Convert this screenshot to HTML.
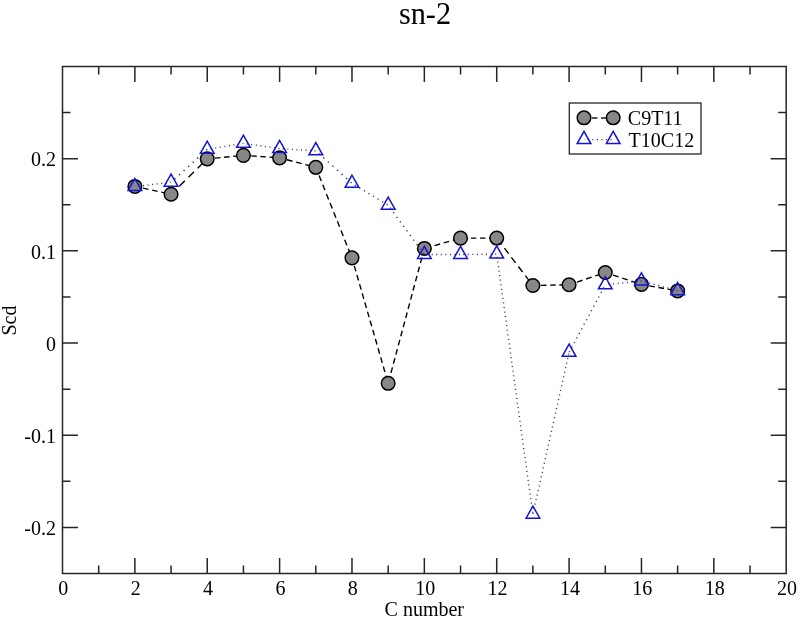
<!DOCTYPE html><html><head><meta charset="utf-8"><style>html,body{margin:0;padding:0;background:#fff;overflow:hidden;width:800px;height:618px;}svg{display:block;will-change:transform;}text{font-family:"Liberation Serif", serif;fill:#000;stroke:none;}</style></head><body>
<svg width="800" height="618" viewBox="0 0 800 618">
<rect x="0" y="0" width="800" height="618" fill="#fff"/>
<text transform="translate(425.0,23.65) scale(1,1.035)" x="0" y="0" font-size="30.3" text-anchor="middle">sn-2</text>
<rect x="62.5" y="66.5" width="723.70" height="507.00" fill="none" stroke="#262626" stroke-width="1.5"/>
<path d="M98.69,573.5v-8M98.69,66.5v8M134.87,573.5v-15.5M134.87,66.5v15.5M171.06,573.5v-8M171.06,66.5v8M207.24,573.5v-15.5M207.24,66.5v15.5M243.43,573.5v-8M243.43,66.5v8M279.61,573.5v-15.5M279.61,66.5v15.5M315.80,573.5v-8M315.80,66.5v8M351.98,573.5v-15.5M351.98,66.5v15.5M388.17,573.5v-8M388.17,66.5v8M424.35,573.5v-15.5M424.35,66.5v15.5M460.54,573.5v-8M460.54,66.5v8M496.72,573.5v-15.5M496.72,66.5v15.5M532.90,573.5v-8M532.90,66.5v8M569.09,573.5v-15.5M569.09,66.5v15.5M605.28,573.5v-8M605.28,66.5v8M641.46,573.5v-15.5M641.46,66.5v15.5M677.64,573.5v-8M677.64,66.5v8M713.83,573.5v-15.5M713.83,66.5v15.5M750.02,573.5v-8M750.02,66.5v8M62.5,527.40h15.5M786.2,527.40h-15.5M62.5,481.31h8M786.2,481.31h-8M62.5,435.22h15.5M786.2,435.22h-15.5M62.5,389.13h8M786.2,389.13h-8M62.5,343.04h15.5M786.2,343.04h-15.5M62.5,296.95h8M786.2,296.95h-8M62.5,250.86h15.5M786.2,250.86h-15.5M62.5,204.77h8M786.2,204.77h-8M62.5,158.68h15.5M786.2,158.68h-15.5M62.5,112.59h8M786.2,112.59h-8" stroke="#262626" stroke-width="1.5" fill="none"/>
<text x="63.30" y="595" font-size="20" text-anchor="middle">0</text>
<text x="135.67" y="595" font-size="20" text-anchor="middle">2</text>
<text x="208.04" y="595" font-size="20" text-anchor="middle">4</text>
<text x="280.41" y="595" font-size="20" text-anchor="middle">6</text>
<text x="352.78" y="595" font-size="20" text-anchor="middle">8</text>
<text x="425.15" y="595" font-size="20" text-anchor="middle">10</text>
<text x="497.52" y="595" font-size="20" text-anchor="middle">12</text>
<text x="569.89" y="595" font-size="20" text-anchor="middle">14</text>
<text x="642.26" y="595" font-size="20" text-anchor="middle">16</text>
<text x="714.63" y="595" font-size="20" text-anchor="middle">18</text>
<text x="787.00" y="595" font-size="20" text-anchor="middle">20</text>
<text x="55.9" y="166.38" font-size="20" text-anchor="end">0.2</text>
<text x="55.9" y="258.56" font-size="20" text-anchor="end">0.1</text>
<text x="55.9" y="350.74" font-size="20" text-anchor="end">0</text>
<text x="55.9" y="442.92" font-size="20" text-anchor="end">-0.1</text>
<text x="55.9" y="535.10" font-size="20" text-anchor="end">-0.2</text>
<text x="424.3" y="615.5" font-size="20" text-anchor="middle">C number</text>
<text transform="translate(16.3,320.5) rotate(-90)" x="0" y="0" font-size="20" text-anchor="middle">Scd</text>
<line x1="134.87" y1="186.43" x2="171.06" y2="194.26" stroke="#000" stroke-width="1.4" stroke-dasharray="5.627 3.735" stroke-dashoffset="1.074"/>
<line x1="171.06" y1="194.26" x2="207.24" y2="158.86" stroke="#000" stroke-width="1.4" stroke-dasharray="7.694 5.106" stroke-dashoffset="1.189"/>
<line x1="207.24" y1="158.86" x2="243.43" y2="155.36" stroke="#000" stroke-width="1.4" stroke-dasharray="5.526 3.667" stroke-dashoffset="1.457"/>
<line x1="243.43" y1="155.36" x2="279.61" y2="157.85" stroke="#000" stroke-width="1.4" stroke-dasharray="5.513 3.659" stroke-dashoffset="1.353"/>
<line x1="279.61" y1="157.85" x2="315.80" y2="167.34" stroke="#000" stroke-width="1.4" stroke-dasharray="5.686 3.774" stroke-dashoffset="1.809"/>
<line x1="315.80" y1="167.34" x2="351.98" y2="257.87" stroke="#000" stroke-width="1.4" stroke-dasharray="5.923 3.931" stroke-dashoffset="0.969"/>
<line x1="351.98" y1="257.87" x2="388.17" y2="383.32" stroke="#000" stroke-width="1.4" stroke-dasharray="5.724 3.799" stroke-dashoffset="1.197"/>
<line x1="424.35" y1="248.46" x2="388.17" y2="383.32" stroke="#000" stroke-width="1.4" stroke-dasharray="5.695 3.779" stroke-dashoffset="0.052"/>
<line x1="424.35" y1="248.46" x2="460.54" y2="238.14" stroke="#000" stroke-width="1.4" stroke-dasharray="5.719 3.796" stroke-dashoffset="-1.092"/>
<line x1="460.54" y1="238.14" x2="496.72" y2="238.05" stroke="#000" stroke-width="1.4" stroke-dasharray="5.500 3.650" stroke-dashoffset="-1.150"/>
<line x1="496.72" y1="238.05" x2="532.90" y2="285.52" stroke="#000" stroke-width="1.4" stroke-dasharray="6.916 4.589" stroke-dashoffset="-1.195"/>
<line x1="532.90" y1="285.52" x2="569.09" y2="284.78" stroke="#000" stroke-width="1.4" stroke-dasharray="5.501 3.651" stroke-dashoffset="1.050"/>
<line x1="569.09" y1="284.78" x2="605.28" y2="272.52" stroke="#000" stroke-width="1.4" stroke-dasharray="5.807 3.854" stroke-dashoffset="1.320"/>
<line x1="605.28" y1="272.52" x2="641.46" y2="284.41" stroke="#000" stroke-width="1.4" stroke-dasharray="5.789 3.842" stroke-dashoffset="1.421"/>
<line x1="641.46" y1="284.41" x2="677.64" y2="290.96" stroke="#000" stroke-width="1.4" stroke-dasharray="5.589 3.709" stroke-dashoffset="1.270"/>
<circle cx="134.87" cy="186.43" r="6.8" fill="#878787" stroke="#000" stroke-width="1.5"/>
<circle cx="171.06" cy="194.26" r="6.8" fill="#878787" stroke="#000" stroke-width="1.5"/>
<circle cx="207.24" cy="158.86" r="6.8" fill="#878787" stroke="#000" stroke-width="1.5"/>
<circle cx="243.43" cy="155.36" r="6.8" fill="#878787" stroke="#000" stroke-width="1.5"/>
<circle cx="279.61" cy="157.85" r="6.8" fill="#878787" stroke="#000" stroke-width="1.5"/>
<circle cx="315.80" cy="167.34" r="6.8" fill="#878787" stroke="#000" stroke-width="1.5"/>
<circle cx="351.98" cy="257.87" r="6.8" fill="#878787" stroke="#000" stroke-width="1.5"/>
<circle cx="388.17" cy="383.32" r="6.8" fill="#878787" stroke="#000" stroke-width="1.5"/>
<circle cx="424.35" cy="248.46" r="6.8" fill="#878787" stroke="#000" stroke-width="1.5"/>
<circle cx="460.54" cy="238.14" r="6.8" fill="#878787" stroke="#000" stroke-width="1.5"/>
<circle cx="496.72" cy="238.05" r="6.8" fill="#878787" stroke="#000" stroke-width="1.5"/>
<circle cx="532.90" cy="285.52" r="6.8" fill="#878787" stroke="#000" stroke-width="1.5"/>
<circle cx="569.09" cy="284.78" r="6.8" fill="#878787" stroke="#000" stroke-width="1.5"/>
<circle cx="605.28" cy="272.52" r="6.8" fill="#878787" stroke="#000" stroke-width="1.5"/>
<circle cx="641.46" cy="284.41" r="6.8" fill="#878787" stroke="#000" stroke-width="1.5"/>
<circle cx="677.64" cy="290.96" r="6.8" fill="#878787" stroke="#000" stroke-width="1.5"/>
<line x1="134.87" y1="186.61" x2="171.06" y2="182.28" stroke="#2c2c78" stroke-width="1.4" stroke-dasharray="1.007 3.575" stroke-dashoffset="0.927"/>
<line x1="171.06" y1="182.28" x2="207.24" y2="149.37" stroke="#2c2c78" stroke-width="1.4" stroke-dasharray="1.352 4.799" stroke-dashoffset="1.554"/>
<line x1="207.24" y1="149.37" x2="243.43" y2="143.38" stroke="#2c2c78" stroke-width="1.4" stroke-dasharray="1.014 3.598" stroke-dashoffset="1.115"/>
<line x1="243.43" y1="143.38" x2="279.61" y2="148.63" stroke="#2c2c78" stroke-width="1.4" stroke-dasharray="1.010 3.587" stroke-dashoffset="1.314"/>
<line x1="279.61" y1="148.63" x2="315.80" y2="150.84" stroke="#2c2c78" stroke-width="1.4" stroke-dasharray="1.002 3.557" stroke-dashoffset="1.403"/>
<line x1="315.80" y1="150.84" x2="351.98" y2="183.38" stroke="#2c2c78" stroke-width="1.4" stroke-dasharray="1.345 4.774" stroke-dashoffset="2.125"/>
<line x1="351.98" y1="183.38" x2="388.17" y2="205.23" stroke="#2c2c78" stroke-width="1.4" stroke-dasharray="1.168 4.147" stroke-dashoffset="1.986"/>
<line x1="388.17" y1="205.23" x2="424.35" y2="254.55" stroke="#2c2c78" stroke-width="1.4" stroke-dasharray="1.240 4.403" stroke-dashoffset="2.580"/>
<line x1="424.35" y1="254.55" x2="460.54" y2="254.55" stroke="#2c2c78" stroke-width="1.4" stroke-dasharray="1.000 3.550" stroke-dashoffset="1.750"/>
<line x1="460.54" y1="254.55" x2="496.72" y2="254.09" stroke="#2c2c78" stroke-width="1.4" stroke-dasharray="1.000 3.550" stroke-dashoffset="1.800"/>
<line x1="496.72" y1="254.09" x2="532.90" y2="514.22" stroke="#2c2c78" stroke-width="1.4" stroke-dasharray="1.010 3.584" stroke-dashoffset="1.716"/>
<line x1="569.09" y1="352.35" x2="532.90" y2="514.22" stroke="#2c2c78" stroke-width="1.4" stroke-dasharray="1.025 3.638" stroke-dashoffset="-1.230"/>
<line x1="605.28" y1="284.87" x2="569.09" y2="352.35" stroke="#2c2c78" stroke-width="1.4" stroke-dasharray="1.135 4.028" stroke-dashoffset="2.326"/>
<line x1="605.28" y1="284.87" x2="641.46" y2="281.00" stroke="#2c2c78" stroke-width="1.4" stroke-dasharray="1.006 3.570" stroke-dashoffset="1.257"/>
<line x1="641.46" y1="281.00" x2="677.64" y2="290.68" stroke="#2c2c78" stroke-width="1.4" stroke-dasharray="1.035 3.675" stroke-dashoffset="1.501"/>
<polygon points="134.87,178.41 128.03,190.56 141.71,190.56" fill="none" stroke="#1414d2" stroke-width="1.5"/>
<polygon points="171.06,174.08 164.21,186.23 177.90,186.23" fill="none" stroke="#1414d2" stroke-width="1.5"/>
<polygon points="207.24,141.17 200.40,153.32 214.08,153.32" fill="none" stroke="#1414d2" stroke-width="1.5"/>
<polygon points="243.43,135.18 236.58,147.33 250.27,147.33" fill="none" stroke="#1414d2" stroke-width="1.5"/>
<polygon points="279.61,140.43 272.77,152.58 286.45,152.58" fill="none" stroke="#1414d2" stroke-width="1.5"/>
<polygon points="315.80,142.64 308.95,154.79 322.64,154.79" fill="none" stroke="#1414d2" stroke-width="1.5"/>
<polygon points="351.98,175.18 345.14,187.33 358.82,187.33" fill="none" stroke="#1414d2" stroke-width="1.5"/>
<polygon points="388.17,197.03 381.32,209.18 395.01,209.18" fill="none" stroke="#1414d2" stroke-width="1.5"/>
<polygon points="424.35,246.35 417.51,258.50 431.19,258.50" fill="none" stroke="#1414d2" stroke-width="1.5"/>
<polygon points="460.54,246.35 453.69,258.50 467.38,258.50" fill="none" stroke="#1414d2" stroke-width="1.5"/>
<polygon points="496.72,245.89 489.88,258.04 503.56,258.04" fill="none" stroke="#1414d2" stroke-width="1.5"/>
<polygon points="532.90,506.02 526.06,518.17 539.75,518.17" fill="none" stroke="#1414d2" stroke-width="1.5"/>
<polygon points="569.09,344.15 562.25,356.30 575.93,356.30" fill="none" stroke="#1414d2" stroke-width="1.5"/>
<polygon points="605.28,276.67 598.43,288.82 612.12,288.82" fill="none" stroke="#1414d2" stroke-width="1.5"/>
<polygon points="641.46,272.80 634.62,284.95 648.30,284.95" fill="none" stroke="#1414d2" stroke-width="1.5"/>
<polygon points="677.64,282.48 670.80,294.63 684.49,294.63" fill="none" stroke="#1414d2" stroke-width="1.5"/>
<rect x="569.3" y="103" width="131.70" height="51.00" fill="#fff" stroke="#262626" stroke-width="1.3"/>
<line x1="584.00" y1="118.00" x2="613.20" y2="118.00" stroke="#1a1a1a" stroke-width="1.3" stroke-dasharray="5.500 3.650" stroke-dashoffset="1.250"/>
<circle cx="584" cy="117.8" r="6.8" fill="#878787" stroke="#000" stroke-width="1.5"/>
<circle cx="613.2" cy="117.8" r="6.8" fill="#878787" stroke="#000" stroke-width="1.5"/>
<line x1="584.00" y1="139.60" x2="613.20" y2="139.60" stroke="#2c2c78" stroke-width="1.4" stroke-dasharray="1.000 3.550" stroke-dashoffset="0.750"/>
<polygon points="584.00,131.40 577.16,143.55 590.84,143.55" fill="none" stroke="#1414d2" stroke-width="1.5"/>
<polygon points="613.20,131.40 606.36,143.55 620.04,143.55" fill="none" stroke="#1414d2" stroke-width="1.5"/>
<text x="627.8" y="125" font-size="20">C9T11</text>
<text x="628.6" y="146.5" font-size="20">T10C12</text>
</svg></body></html>
